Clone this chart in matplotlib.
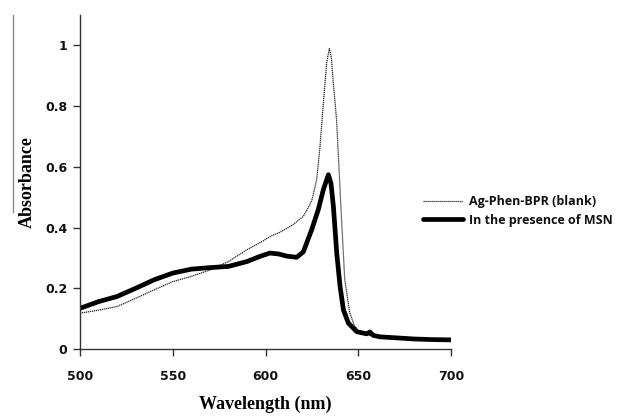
import matplotlib
matplotlib.use("Agg")
import matplotlib.pyplot as plt
from matplotlib.lines import Line2D

# Wavelength grid (nm) and absorbance readings for both spectra
wl_blank = [500, 510, 520, 530, 540, 550, 560, 570, 580, 590, 597, 603, 608, 615,
            620.4, 623, 625, 627.6, 629.4, 631.2, 633, 634.4, 635.5, 636.5, 638.3,
            641, 642.7, 645.4, 648, 650.8, 653, 654.5, 656, 660, 670, 680, 690, 700]
abs_blank = [0.118, 0.128, 0.140, 0.167, 0.195, 0.222, 0.239, 0.260, 0.288, 0.327,
             0.350, 0.372, 0.385, 0.410, 0.437, 0.465, 0.490, 0.558, 0.668, 0.810,
             0.944, 0.989, 0.960, 0.880, 0.756, 0.426, 0.230, 0.120, 0.075, 0.057,
             0.050, 0.052, 0.045, 0.040, 0.036, 0.033, 0.031, 0.030]

wl_msn = [500, 510, 520, 530, 540, 550, 560, 570, 580, 590, 597, 602.4, 607, 611.4,
          616.8, 620.4, 624.9, 628.5, 631.2, 633.9, 635.3, 636.6, 638.4, 640.2, 642,
          644.7, 649.2, 654.5, 656.3, 658, 661.7, 672.5, 680, 690, 700]
abs_msn = [0.134, 0.156, 0.173, 0.200, 0.228, 0.250, 0.263, 0.268, 0.272, 0.288,
           0.305, 0.316, 0.313, 0.306, 0.302, 0.320, 0.393, 0.460, 0.525, 0.574,
           0.545, 0.470, 0.316, 0.206, 0.129, 0.085, 0.057, 0.050, 0.056, 0.045,
           0.040, 0.036, 0.033, 0.031, 0.030]

series_labels = ["Ag-Phen-BPR (blank)", "In the presence of MSN"]
x_ticks = [500, 550, 600, 650, 700]
y_ticks = [0, 0.2, 0.4, 0.6, 0.8, 1]
y_tick_labels = ["0", "0.2", "0.4", "0.6", "0.8", "1"]

fig = plt.figure(figsize=(6.18, 4.16), dpi=100)
ax = fig.add_axes([80 / 618, 1 - 349 / 416, 371 / 618, 334 / 416])

ax.plot(wl_blank, abs_blank, color="#222222", lw=0.9, ls=(0, (1, 0.6)),
        label=series_labels[0])
ax.plot(wl_msn, abs_msn, color="black", lw=3.4, solid_joinstyle="round",
        solid_capstyle="round", label=series_labels[1])

ax.set_xlim(500, 700)
ax.set_ylim(0, 1.1)
ax.set_xticks(x_ticks)
ax.set_yticks(y_ticks)
ax.set_yticklabels(y_tick_labels)

for side in ("top", "right"):
    ax.spines[side].set_visible(False)
for side in ("left", "bottom"):
    ax.spines[side].set_color("#333333")
    ax.spines[side].set_linewidth(1.0)

ax.tick_params(axis="both", direction="out", length=5, width=1.0, color="#333333")
ax.tick_params(axis="x", pad=10)
ax.tick_params(axis="y", pad=4)
for lbl in ax.get_xticklabels() + ax.get_yticklabels():
    lbl.set_fontfamily("DejaVu Sans")
    lbl.set_fontweight("bold")
    lbl.set_fontsize(9)
    lbl.set_color("#111111")

label_font = dict(family="Liberation Serif", weight="bold", size=13)
ax.set_xlabel("Wavelength (nm)", fontdict=label_font, labelpad=9)
ax.set_ylabel("Absorbance", fontdict=label_font, labelpad=7)

leg = ax.legend(loc="upper left", bbox_to_anchor=(423 / 618, 1 - 195 / 416),
                bbox_transform=fig.transFigure, frameon=False, borderpad=0,
                borderaxespad=0, handlelength=3.2, handletextpad=0.5,
                labelspacing=0.45,
                prop=dict(family="Open Sans", weight="bold", size=9))
for t in leg.get_texts():
    t.set_color("#111111")

# thin gray rule at the far left edge
fig.add_artist(Line2D([13 / 618, 13 / 618], [1 - 15 / 416, 1 - 212 / 416],
                      transform=fig.transFigure, color="#8a8a8a", lw=1.0))

fig.savefig("out.png", dpi=100)
